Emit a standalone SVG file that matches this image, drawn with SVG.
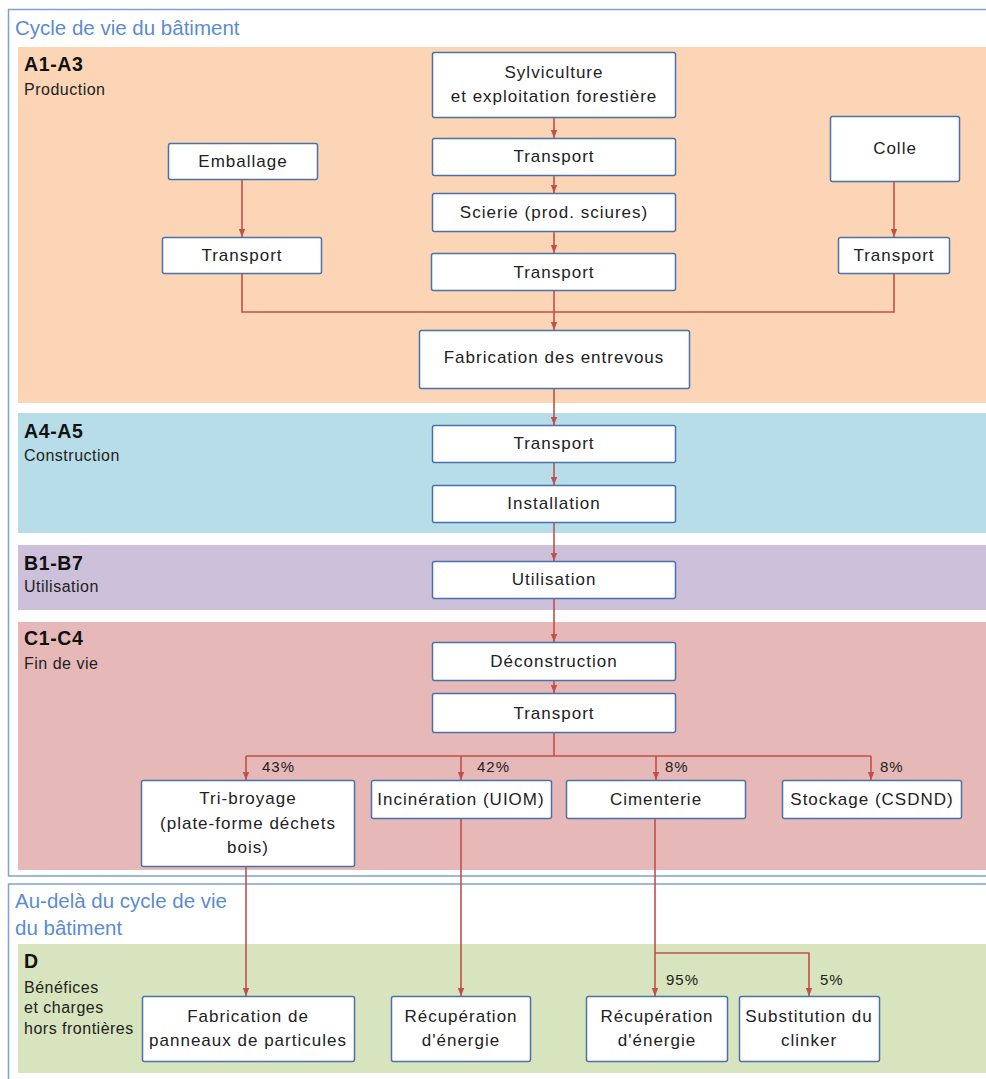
<svg xmlns="http://www.w3.org/2000/svg" width="986" height="1079" viewBox="0 0 986 1079">
<defs>
<marker id="arr" viewBox="0 0 10 10" refX="10" refY="5" markerWidth="8" markerHeight="8" markerUnits="userSpaceOnUse" orient="auto">
<path d="M0,1 L10,5 L0,9 z" fill="#c0504d"/>
</marker>
<style>
.frame{fill:#ffffff;stroke:#7ea2d4;stroke-width:1.5}
.ftitle{font-family:"Liberation Sans",Arial,sans-serif;font-size:20.5px;fill:#5b8ccf}
.band-a{fill:#fbd5b5}
.band-b{fill:#b7dde8}
.band-c{fill:#ccc0da}
.band-d{fill:#e6b9b8}
.band-e{fill:#d7e4bd}
.code{font-family:"Liberation Sans",Arial,sans-serif;font-size:19.5px;font-weight:bold;fill:#111;letter-spacing:0.6px}
.sub{font-family:"Liberation Sans",Arial,sans-serif;font-size:16px;fill:#222;letter-spacing:0.5px}
.box{fill:#ffffff;stroke:#4a72a8;stroke-width:1.5}
.t{font-family:"Liberation Sans",Arial,sans-serif;font-size:17px;fill:#222;text-anchor:middle;letter-spacing:1px}
.pct{font-family:"Liberation Sans",Arial,sans-serif;font-size:15px;fill:#222;letter-spacing:1px}
.c{fill:none;stroke:#c0504d;stroke-width:1.6}
</style>
</defs>

<!-- frames -->
<g id="frame-cycle">
<rect class="frame" x="8.5" y="9.5" width="990" height="866.5"/>
<text class="ftitle" x="15" y="35">Cycle de vie du bâtiment</text>
</g>
<g id="frame-beyond">
<rect class="frame" x="8.5" y="884" width="990" height="210"/>
<text class="ftitle" x="15" y="908">Au-delà du cycle de vie</text>
<text class="ftitle" x="15" y="935">du bâtiment</text>
</g>

<!-- bands -->
<g id="band-A1-A3">
<rect class="band-a" x="18" y="47" width="970" height="356"/>
<text class="code" x="24" y="71">A1-A3</text>
<text class="sub" x="24" y="95">Production</text>
</g>
<g id="band-A4-A5">
<rect class="band-b" x="18" y="413" width="970" height="120"/>
<text class="code" x="24" y="438">A4-A5</text>
<text class="sub" x="24" y="461">Construction</text>
</g>
<g id="band-B1-B7">
<rect class="band-c" x="18" y="545" width="970" height="65"/>
<text class="code" x="24" y="570">B1-B7</text>
<text class="sub" x="24" y="592">Utilisation</text>
</g>
<g id="band-C1-C4">
<rect class="band-d" x="18" y="622" width="970" height="248"/>
<text class="code" x="24" y="645">C1-C4</text>
<text class="sub" x="24" y="669">Fin de vie</text>
</g>
<g id="band-D">
<rect class="band-e" x="18" y="944" width="970" height="129"/>
<text class="code" x="24" y="968">D</text>
<text class="sub" x="24" y="993">Bénéfices</text>
<text class="sub" x="24" y="1013">et charges</text>
<text class="sub" x="24" y="1034">hors frontières</text>
</g>

<!-- connectors -->
<g id="connectors">
<path class="c" d="M554,117 V138" marker-end="url(#arr)"/>
<path class="c" d="M554,175 V193" marker-end="url(#arr)"/>
<path class="c" d="M554,232 V253" marker-end="url(#arr)"/>
<path class="c" d="M554,290 V330" marker-end="url(#arr)"/>
<path class="c" d="M242,179 V237" marker-end="url(#arr)"/>
<path class="c" d="M894,181 V237" marker-end="url(#arr)"/>
<path class="c" d="M242,273 V312 H894 V273"/>
<path class="c" d="M554,388 V425" marker-end="url(#arr)"/>
<path class="c" d="M554,462 V485" marker-end="url(#arr)"/>
<path class="c" d="M554,522 V561" marker-end="url(#arr)"/>
<path class="c" d="M554,598 V642" marker-end="url(#arr)"/>
<path class="c" d="M554,680 V693" marker-end="url(#arr)"/>
<path class="c" d="M554,732 V756"/>
<path class="c" d="M246,756 H871"/>
<path class="c" d="M246,756 V780" marker-end="url(#arr)"/>
<path class="c" d="M461,756 V780" marker-end="url(#arr)"/>
<path class="c" d="M656,756 V780" marker-end="url(#arr)"/>
<path class="c" d="M871,756 V780" marker-end="url(#arr)"/>
<path class="c" d="M246,866 V996" marker-end="url(#arr)"/>
<path class="c" d="M461,818 V996" marker-end="url(#arr)"/>
<path class="c" d="M655,818 V996" marker-end="url(#arr)"/>
<path class="c" d="M655,953 H809 V996" marker-end="url(#arr)"/>
<text class="pct" x="262" y="772">43%</text>
<text class="pct" x="477" y="772">42%</text>
<text class="pct" x="665" y="772">8%</text>
<text class="pct" x="880" y="772">8%</text>
<text class="pct" x="666" y="985">95%</text>
<text class="pct" x="820" y="985">5%</text>
</g>

<!-- nodes A1-A3 -->
<g id="n-sylviculture">
<rect class="box" x="432.5" y="52.5" width="243" height="65" rx="2"/>
<text class="t" x="554" y="78">Sylviculture</text>
<text class="t" x="554" y="102">et exploitation forestière</text>
</g>
<g id="n-transport1">
<rect class="box" x="432.5" y="138.5" width="243" height="37" rx="2"/>
<text class="t" x="554" y="162">Transport</text>
</g>
<g id="n-scierie">
<rect class="box" x="432.5" y="193.5" width="243" height="38" rx="2"/>
<text class="t" x="554" y="218">Scierie (prod. sciures)</text>
</g>
<g id="n-transport2">
<rect class="box" x="431.5" y="253.5" width="244" height="37" rx="2"/>
<text class="t" x="554" y="278">Transport</text>
</g>
<g id="n-emballage">
<rect class="box" x="168.5" y="143.5" width="149" height="36" rx="2"/>
<text class="t" x="243" y="167">Emballage</text>
</g>
<g id="n-transport-left">
<rect class="box" x="162.5" y="237.5" width="159" height="36" rx="2"/>
<text class="t" x="242" y="261">Transport</text>
</g>
<g id="n-colle">
<rect class="box" x="830.5" y="116.5" width="129" height="65" rx="2"/>
<text class="t" x="895" y="154">Colle</text>
</g>
<g id="n-transport-right">
<rect class="box" x="838.5" y="237.5" width="111" height="36" rx="2"/>
<text class="t" x="894" y="261">Transport</text>
</g>
<g id="n-fabrication">
<rect class="box" x="419.5" y="330.5" width="270" height="58" rx="2"/>
<text class="t" x="554" y="363">Fabrication des entrevous</text>
</g>

<!-- A4-A5 -->
<g id="n-transport3">
<rect class="box" x="432.5" y="425.5" width="243" height="37" rx="2"/>
<text class="t" x="554" y="449">Transport</text>
</g>
<g id="n-installation">
<rect class="box" x="432.5" y="485.5" width="243" height="37" rx="2"/>
<text class="t" x="554" y="509">Installation</text>
</g>

<!-- B1-B7 -->
<g id="n-utilisation">
<rect class="box" x="432.5" y="561.5" width="243" height="37" rx="2"/>
<text class="t" x="554" y="585">Utilisation</text>
</g>

<!-- C1-C4 -->
<g id="n-deconstruction">
<rect class="box" x="432.5" y="642.5" width="243" height="38" rx="2"/>
<text class="t" x="554" y="667">Déconstruction</text>
</g>
<g id="n-transport4">
<rect class="box" x="432.5" y="693.5" width="243" height="39" rx="2"/>
<text class="t" x="554" y="719">Transport</text>
</g>
<g id="n-tri-broyage">
<rect class="box" x="141.5" y="780.5" width="213" height="86" rx="2"/>
<text class="t" x="248" y="804">Tri-broyage</text>
<text class="t" x="248" y="829">(plate-forme déchets</text>
<text class="t" x="248" y="853">bois)</text>
</g>
<g id="n-incineration">
<rect class="box" x="371.5" y="780.5" width="180" height="38" rx="2"/>
<text class="t" x="461" y="805">Incinération (UIOM)</text>
</g>
<g id="n-cimenterie">
<rect class="box" x="566.5" y="780.5" width="179" height="38" rx="2"/>
<text class="t" x="656" y="805">Cimenterie</text>
</g>
<g id="n-stockage">
<rect class="box" x="782.5" y="780.5" width="179" height="38" rx="2"/>
<text class="t" x="872" y="805">Stockage (CSDND)</text>
</g>

<!-- D -->
<g id="n-panneaux">
<rect class="box" x="142.5" y="996.5" width="212" height="65" rx="2"/>
<text class="t" x="248" y="1022">Fabrication de</text>
<text class="t" x="248" y="1046">panneaux de particules</text>
</g>
<g id="n-recup1">
<rect class="box" x="391.5" y="996.5" width="139" height="65" rx="2"/>
<text class="t" x="461" y="1022">Récupération</text>
<text class="t" x="461" y="1046">d'énergie</text>
</g>
<g id="n-recup2">
<rect class="box" x="586.5" y="996.5" width="141" height="65" rx="2"/>
<text class="t" x="657" y="1022">Récupération</text>
<text class="t" x="657" y="1046">d'énergie</text>
</g>
<g id="n-clinker">
<rect class="box" x="739.5" y="996.5" width="140" height="65" rx="2"/>
<text class="t" x="809" y="1022">Substitution du</text>
<text class="t" x="809" y="1046">clinker</text>
</g>
</svg>
